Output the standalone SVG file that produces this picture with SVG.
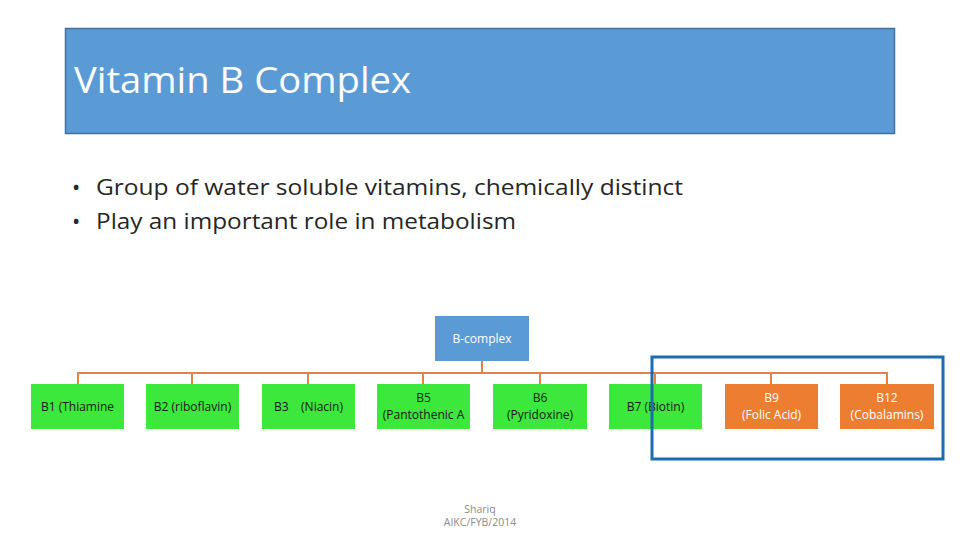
<svg xmlns="http://www.w3.org/2000/svg" width="960" height="540" viewBox="0 0 960 540">
<style>
text{font-family:"Open Sans","Liberation Sans",sans-serif}
.g rect{fill:#3BE83B}
.o rect{fill:#ED7D31}
.lt{font-size:12px;fill:#1a1a1a;text-anchor:middle}
.wt{font-size:12px;fill:#ffffff;text-anchor:middle}
.conn{stroke:#E0824A;stroke-width:2;fill:none}
</style>
<rect width="960" height="540" fill="#ffffff"/>
<g id="title">
<rect x="65.5" y="28.5" width="829" height="105" fill="#5B9BD5" stroke="#41719C" stroke-width="1.5"/>
<text x="74" y="93" font-size="36" fill="#ffffff" textLength="337" lengthAdjust="spacingAndGlyphs">Vitamin B Complex</text>
</g>
<g id="bullets" font-size="22" fill="#262626">
<text x="72" y="195" font-size="22">•</text>
<text x="96" y="195" textLength="587" lengthAdjust="spacingAndGlyphs">Group of water soluble vitamins, chemically distinct</text>
<text x="72" y="229" font-size="22">•</text>
<text x="96" y="229" textLength="420" lengthAdjust="spacingAndGlyphs">Play an important role in metabolism</text>
</g>
<g id="connectors" class="conn">
<path d="M482 361V373M78 373H887M78 372V384M192 372V384M308 372V384M423 372V384M540 372V384M655 372V384M771 372V384M887 372V384"/>
</g>
<g id="bcomplex"><rect x="435" y="316" width="94" height="45" fill="#5B9BD5"/><text class="wt" x="482" y="343">B-complex</text></g>
<g id="b1" class="g"><rect x="31" y="384" width="93" height="45"/><text class="lt" x="77.5" y="411">B1 (Thiamine</text></g>
<g id="b2" class="g"><rect x="146" y="384" width="93" height="45"/><text class="lt" x="192.5" y="411">B2 (riboflavin)</text></g>
<g id="b3" class="g"><rect x="262" y="384" width="93" height="45"/><text class="lt" x="308.5" y="411" xml:space="preserve">B3    (Niacin)</text></g>
<g id="b5" class="g"><rect x="377" y="384" width="93" height="45"/><text class="lt" x="423.5" y="402">B5</text><text class="lt" x="423.5" y="419">(Pantothenic A</text></g>
<g id="b6" class="g"><rect x="493" y="384" width="94" height="45"/><text class="lt" x="540" y="402">B6</text><text class="lt" x="540" y="419">(Pyridoxine)</text></g>
<g id="b7" class="g"><rect x="609" y="384" width="93" height="45"/><text class="lt" x="655.5" y="411">B7 (Biotin)</text></g>
<g id="b9" class="o"><rect x="725" y="384" width="93" height="45"/><text class="wt" x="771.5" y="402">B9</text><text class="wt" x="771.5" y="419">(Folic Acid)</text></g>
<g id="b12" class="o"><rect x="840" y="384" width="94" height="45"/><text class="wt" x="887" y="402">B12</text><text class="wt" x="887" y="419">(Cobalamins)</text></g>
<g id="highlight"><rect x="652" y="357" width="291" height="102" fill="none" stroke="#1F6BB0" stroke-width="3"/></g>
<g id="footer" font-size="10.5" fill="#8c8c8c" text-anchor="middle"><text x="480" y="513">Shariq</text><text x="480" y="526">AIKC/FYB/2014</text></g>
</svg>
